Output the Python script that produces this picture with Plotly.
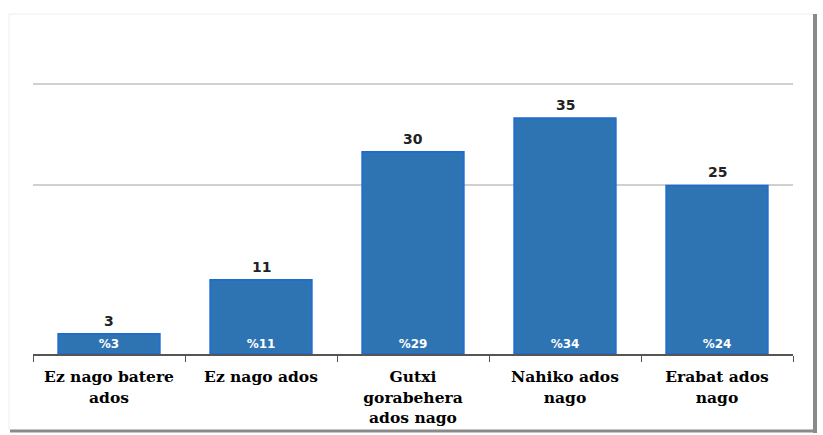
import plotly.graph_objects as go

categories = ["Ez nago batere<br>ados", "Ez nago ados", "Gutxi<br>gorabehera<br>ados nago",
              "Nahiko ados<br>nago", "Erabat ados<br>nago"]
counts = [3, 11, 30, 35, 25]
percents = ["%3", "%11", "%29", "%34", "%24"]
grid_values = [25, 40]

W, H = 823, 435
L, R, T, B = 33, 30, 20, 81
PW, PH = W - L - R, H - T - B


def px(xp):
    return (xp - L) / PW


def py(yp):
    return (H - B - yp) / PH


fig = go.Figure()
fig.add_trace(go.Bar(
    x=categories, y=counts,
    marker=dict(color="#2e74b3", line=dict(color="#1b6ad6", width=1.5)),
    text=percents, textposition="inside", insidetextanchor="start",
    textangle=0, constraintext="none",
    insidetextfont=dict(family="DejaVu Sans", size=12, color="white", weight="bold"),
    hoverinfo="skip",
))

annotations = [
    dict(x=c, y=v, xref="x", yref="y", text=str(v), showarrow=False,
         yanchor="bottom", yshift=3,
         font=dict(family="DejaVu Sans", size=14, color="#222222", weight="bold"))
    for c, v in zip(categories, counts)
]

fig.update_layout(
    width=W, height=H,
    margin=dict(l=L, r=R, t=T, b=B),
    paper_bgcolor="white", plot_bgcolor="white",
    showlegend=False, bargap=0.33,
    annotations=annotations,
    xaxis=dict(
        tickson="boundaries", ticks="outside", ticklen=6, tickcolor="#555555",
        showline=True, linecolor="#555555", linewidth=1.5,
        tickfont=dict(family="DejaVu Serif", size=15.5, color="black", weight="bold"),
        ticklabelstandoff=8, automargin=False,
        showgrid=False,
    ),
    yaxis=dict(
        range=[0, 49.55], tickvals=grid_values, showticklabels=False,
        showgrid=True, gridcolor="#d0d0d0", gridwidth=1.5, zeroline=False,
        automargin=False,
    ),
    shapes=[
        dict(type="line", xref="paper", yref="paper",
             x0=px(815), x1=px(815), y0=py(433), y1=py(14),
             line=dict(color="#8a8a8a", width=4)),
        dict(type="line", xref="paper", yref="paper",
             x0=px(10), x1=px(817), y0=py(431), y1=py(431),
             line=dict(color="#8a8a8a", width=3)),
        dict(type="line", xref="paper", yref="paper",
             x0=px(9), x1=px(813), y0=py(14), y1=py(14),
             line=dict(color="#eeeeee", width=1)),
        dict(type="line", xref="paper", yref="paper",
             x0=px(9), x1=px(9), y0=py(430), y1=py(14),
             line=dict(color="#eeeeee", width=1)),
    ],
)

fig.write_html("out.html", config={"displayModeBar": False},
               post_script="document.body.style.margin='0';document.body.style.overflow='hidden';")
